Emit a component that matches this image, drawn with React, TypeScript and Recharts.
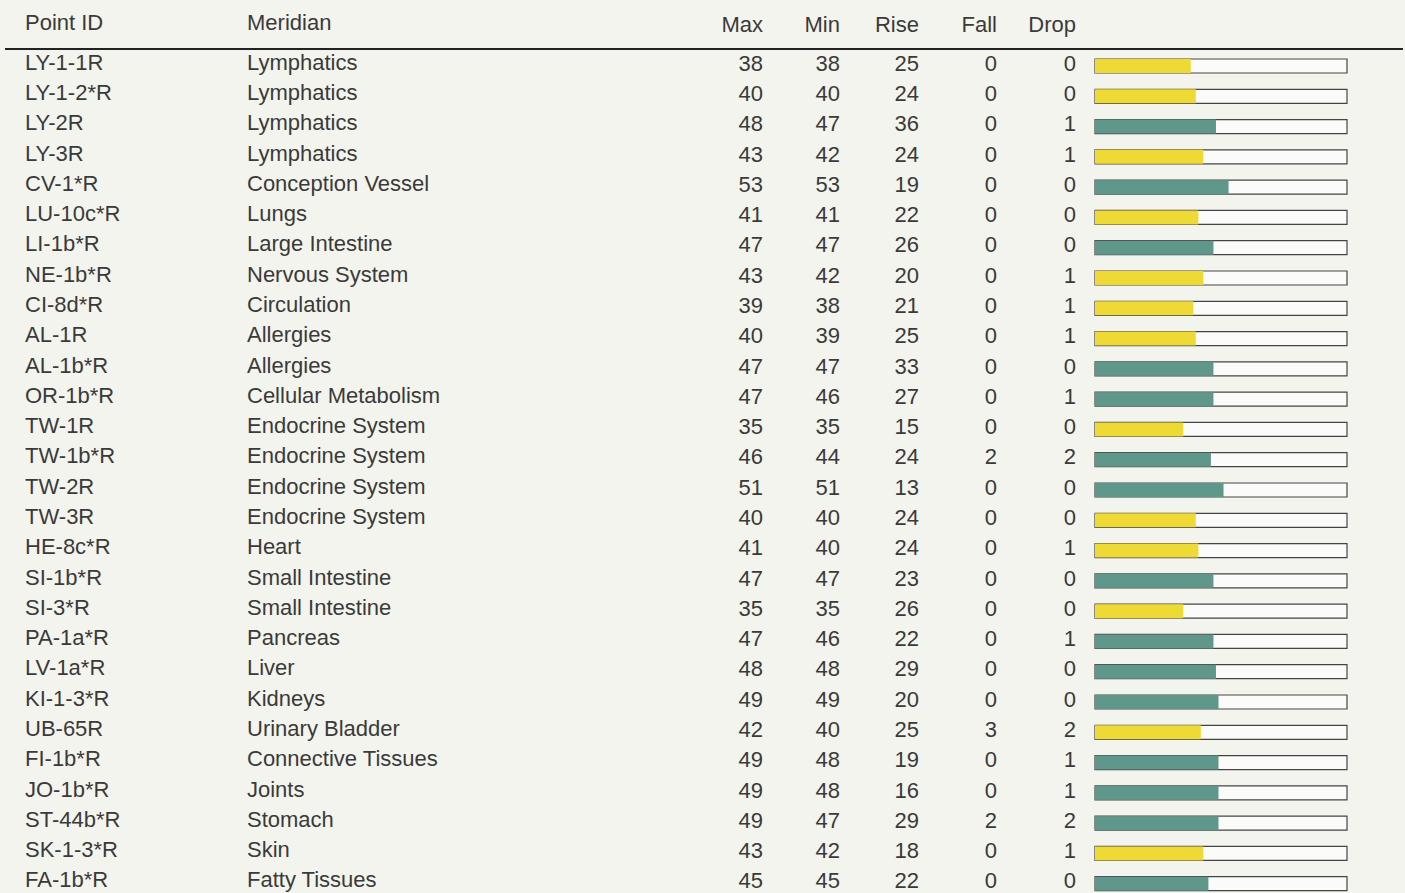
import { BarChart, Bar, XAxis, YAxis, Cell } from 'recharts';

const ids = [
  'LY-1-1R', 'LY-1-2*R', 'LY-2R', 'LY-3R', 'CV-1*R', 'LU-10c*R', 'LI-1b*R',
  'NE-1b*R', 'CI-8d*R', 'AL-1R', 'AL-1b*R', 'OR-1b*R', 'TW-1R', 'TW-1b*R',
  'TW-2R', 'TW-3R', 'HE-8c*R', 'SI-1b*R', 'SI-3*R', 'PA-1a*R', 'LV-1a*R',
  'KI-1-3*R', 'UB-65R', 'FI-1b*R', 'JO-1b*R', 'ST-44b*R', 'SK-1-3*R', 'FA-1b*R',
];

const meridians = [
  'Lymphatics', 'Lymphatics', 'Lymphatics', 'Lymphatics', 'Conception Vessel',
  'Lungs', 'Large Intestine', 'Nervous System', 'Circulation', 'Allergies',
  'Allergies', 'Cellular Metabolism', 'Endocrine System', 'Endocrine System',
  'Endocrine System', 'Endocrine System', 'Heart', 'Small Intestine',
  'Small Intestine', 'Pancreas', 'Liver', 'Kidneys', 'Urinary Bladder',
  'Connective Tissues', 'Joints', 'Stomach', 'Skin', 'Fatty Tissues',
];

const maxVals = [38, 40, 48, 43, 53, 41, 47, 43, 39, 40, 47, 47, 35, 46, 51, 40, 41, 47, 35, 47, 48, 49, 42, 49, 49, 49, 43, 45];
const minVals = [38, 40, 47, 42, 53, 41, 47, 42, 38, 39, 47, 46, 35, 44, 51, 40, 40, 47, 35, 46, 48, 49, 40, 48, 48, 47, 42, 45];
const riseVals = [25, 24, 36, 24, 19, 22, 26, 20, 21, 25, 33, 27, 15, 24, 13, 24, 24, 23, 26, 22, 29, 20, 25, 19, 16, 29, 18, 22];
const fallVals = [0, 0, 0, 0, 0, 0, 0, 0, 0, 0, 0, 0, 0, 2, 0, 0, 0, 0, 0, 0, 0, 0, 3, 0, 0, 2, 0, 0];
const dropVals = [0, 0, 1, 1, 0, 0, 0, 1, 1, 1, 0, 1, 0, 2, 0, 0, 1, 0, 0, 1, 0, 0, 2, 1, 1, 2, 1, 0];

const columns = ['Max', 'Min', 'Rise', 'Fall', 'Drop'];

const data = ids.map((id, i) => ({
  id,
  meridian: meridians[i],
  max: maxVals[i],
  min: minVals[i],
  rise: riseVals[i],
  fall: fallVals[i],
  drop: dropVals[i],
}));

const FONT = '"Liberation Sans", Arial, sans-serif';
const TEXT = '#3a3a3a';
const TEAL = '#5f978a';
const YELLOW = '#efd935';
// right edges of the numeric columns
const numRight = [763, 840, 919, 997, 1076];

function RowTick(props: any) {
  const { y, payload } = props;
  const i = ids.indexOf(payload.value);
  const row = data[i];
  const ty = y - 4;
  const nums = [row.max, row.min, row.rise, row.fall, row.drop];
  return (
    <g fontFamily={FONT} fontSize={22} fill={TEXT}>
      <text x={25} y={ty} dominantBaseline="central">{row.id}</text>
      <text x={247} y={ty} dominantBaseline="central">{row.meridian}</text>
      {nums.map((n, k) => (
        <text key={k} x={numRight[k]} y={ty + 1} textAnchor="end" dominantBaseline="central">
          {n}
        </text>
      ))}
    </g>
  );
}

export default function App() {
  return (
    <div
      style={{
        position: 'absolute',
        left: 0,
        top: 0,
        width: 1405,
        height: 893,
        overflow: 'hidden',
        background: '#f4f4ef',
        fontFamily: FONT,
        color: TEXT,
      }}
    >
      <div style={{ position: 'absolute', left: 25, top: 8, height: 30, lineHeight: '30px', fontSize: 22 }}>
        Point ID
      </div>
      <div style={{ position: 'absolute', left: 247, top: 8, height: 30, lineHeight: '30px', fontSize: 22 }}>
        Meridian
      </div>
      {columns.map((c, k) => (
        <div
          key={c}
          style={{
            position: 'absolute',
            right: 1405 - numRight[k],
            top: 10,
            height: 30,
            lineHeight: '30px',
            fontSize: 22,
            textAlign: 'right',
          }}
        >
          {c}
        </div>
      ))}
      <div style={{ position: 'absolute', left: 5, top: 48, width: 1398, height: 2, background: '#222' }} />
      <BarChart
        width={1405}
        height={910}
        data={data}
        layout="vertical"
        margin={{ top: 51, right: 58, left: 0, bottom: 11 }}
        style={{ position: 'absolute', left: 0, top: 0 }}
      >
        <XAxis type="number" domain={[0, 100]} hide />
        <YAxis
          type="category"
          dataKey="id"
          width={1095}
          axisLine={false}
          tickLine={false}
          interval={0}
          tick={(p: any) => <RowTick {...p} />}
        />
        <Bar
          dataKey="max"
          barSize={14}
          isAnimationActive={false}
          background={{ fill: '#fbfbf9', stroke: '#444', strokeWidth: 1.2 }}
        >
          {data.map((d, i) => (
            <Cell key={i} fill={d.max >= 45 ? TEAL : YELLOW} />
          ))}
        </Bar>
      </BarChart>
    </div>
  );
}
